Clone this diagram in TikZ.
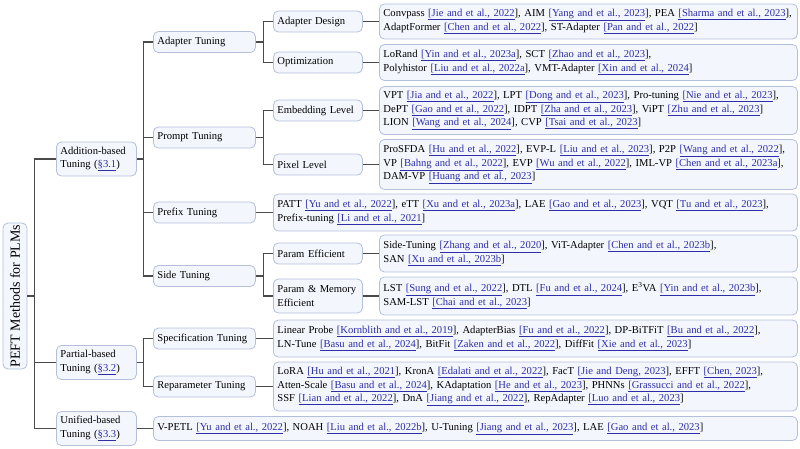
\documentclass[tikz,border=0pt]{standalone}
\usepackage{fontspec}
\setmainfont{Liberation Serif}
\usepackage{xcolor}
\definecolor{boxline}{HTML}{B4C0DA}
\definecolor{boxfill}{HTML}{F3F6FC}
\definecolor{linkc}{HTML}{2E2EA8}
\definecolor{edgec}{HTML}{4A4A4A}
% citation and section links, set as underlined blue text
\newcommand{\ct}[1]{\textcolor{linkc}{\underline{[#1}}]}
\newcommand{\sref}[1]{\textcolor{linkc}{\underline{§#1}}}

\begin{document}
\begin{tikzpicture}[x=1pt,y=-1pt,
  box/.style={draw=boxline, fill=boxfill, line width=0.8pt, rounded corners=5pt,
    anchor=west, align=left, inner xsep=4pt, inner ysep=0pt,
    font=\fontsize{10.6}{13.5}\selectfont},
  edge/.style={draw=edgec, line width=1.3pt},
]
\useasboundingbox (0,0) rectangle (800,448);

% root
\node[box, anchor=center, minimum width=24pt, minimum height=146pt, inner xsep=0pt] (root) at (15,296)
  {\rotatebox{90}{\fontsize{14}{16}\selectfont PEFT Methods for PLMs}};

% first level
\node[box, text width=72pt, minimum height=34pt] (add) at (56,159) {Addition-based\\Tuning (\sref{3.1})};
\node[box, text width=72pt, minimum height=34pt] (part) at (56,362.5) {Partial-based\\Tuning (\sref{3.2})};
\node[box, text width=72pt, minimum height=34pt] (uni) at (56,428.5) {Unified-based\\Tuning (\sref{3.3})};

% second level
\node[box, text width=94pt, minimum height=21pt] (adapt) at (153,42) {Adapter Tuning};
\node[box, text width=94pt, minimum height=21pt] (prompt) at (153,137.5) {Prompt Tuning};
\node[box, text width=94pt, minimum height=21pt] (prefix) at (153,212.5) {Prefix Tuning};
\node[box, text width=94pt, minimum height=21pt] (side) at (153,276) {Side Tuning};
\node[box, text width=94pt, minimum height=21pt] (spec) at (153,338.5) {Specification Tuning};
\node[box, text width=94pt, minimum height=21pt] (repar) at (153,386.5) {Reparameter Tuning};

% third level
\node[box, text width=81pt, minimum height=21pt] (adesign) at (273,21.5) {Adapter Design};
\node[box, text width=81pt, minimum height=21pt] (optim) at (273,62.5) {Optimization};
\node[box, text width=81pt, minimum height=21pt] (embed) at (273,110.5) {Embedding Level};
\node[box, text width=81pt, minimum height=21pt] (pixel) at (273,164.5) {Pixel Level};
\node[box, text width=81pt, minimum height=21pt] (peff) at (273,253.5) {Param Efficient};
\node[box, text width=81pt, minimum height=34pt] (pmem) at (273,296) {Param \& Memory\\Efficient};

% method lists
\node[box, text width=410pt, minimum height=35pt] (lad) at (379,21.5)
  {Convpass \ct{Jie and et al., 2022}, AIM \ct{Yang and et al., 2023}, PEA \ct{Sharma and et al., 2023},\\
   AdaptFormer \ct{Chen and et al., 2022}, ST-Adapter \ct{Pan and et al., 2022}};
\node[box, text width=410pt, minimum height=36pt] (lop) at (379,62.5)
  {LoRand \ct{Yin and et al., 2023a}, SCT \ct{Zhao and et al., 2023},\\
   Polyhistor \ct{Liu and et al., 2022a}, VMT-Adapter \ct{Xin and et al., 2024}};
\node[box, text width=410pt, minimum height=48pt] (lem) at (379,110.5)
  {VPT \ct{Jia and et al., 2022}, LPT \ct{Dong and et al., 2023}, Pro-tuning \ct{Nie and et al., 2023},\\
   DePT \ct{Gao and et al., 2022}, IDPT \ct{Zha and et al., 2023}, ViPT \ct{Zhu and et al., 2023}\\
   LION \ct{Wang and et al., 2024}, CVP \ct{Tsai and et al., 2023}};
\node[box, text width=410pt, minimum height=50pt] (lpx) at (379,164.5)
  {ProSFDA \ct{Hu and et al., 2022}, EVP-L \ct{Liu and et al., 2023}, P2P \ct{Wang and et al., 2022},\\
   VP \ct{Bahng and et al., 2022}, EVP \ct{Wu and et al., 2022}, IML-VP \ct{Chen and et al., 2023a},\\
   DAM-VP \ct{Huang and et al., 2023}};
\node[box, text width=516pt, minimum height=37pt] (lpf) at (273,212.5)
  {PATT \ct{Yu and et al., 2022}, eTT \ct{Xu and et al., 2023a}, LAE \ct{Gao and et al., 2023}, VQT \ct{Tu and et al., 2023},\\
   Prefix-tuning \ct{Li and et al., 2021}};
\node[box, text width=410pt, minimum height=37pt] (lpe) at (379,253.5)
  {Side-Tuning \ct{Zhang and et al., 2020}, ViT-Adapter \ct{Chen and et al., 2023b},\\
   SAN \ct{Xu and et al., 2023b}};
\node[box, text width=410pt, minimum height=38pt] (lpm) at (379,296)
  {LST \ct{Sung and et al., 2022}, DTL \ct{Fu and et al., 2024}, E\textsuperscript{3}VA \ct{Yin and et al., 2023b},\\
   SAM-LST \ct{Chai and et al., 2023}};
\node[box, text width=516pt, minimum height=37pt] (lsp) at (273,338.5)
  {Linear Probe \ct{Kornblith and et al., 2019}, AdapterBias \ct{Fu and et al., 2022}, DP-BiTFiT \ct{Bu and et al., 2022},\\
   LN-Tune \ct{Basu and et al., 2024}, BitFit \ct{Zaken and et al., 2022}, DiffFit \ct{Xie and et al., 2023}};
\node[box, text width=516pt, minimum height=49pt] (lrp) at (273,386.5)
  {LoRA \ct{Hu and et al., 2021}, KronA \ct{Edalati and et al., 2022}, FacT \ct{Jie and Deng, 2023}, EFFT \ct{Chen, 2023},\\
   Atten-Scale \ct{Basu and et al., 2024}, KAdaptation \ct{He and et al., 2023}, PHNNs \ct{Grassucci and et al., 2022},\\
   SSF \ct{Lian and et al., 2022}, DnA \ct{Jiang and et al., 2022}, RepAdapter \ct{Luo and et al., 2023}};
\node[box, text width=636pt, minimum height=24pt] (lun) at (153,428.5)
  {V-PETL \ct{Yu and et al., 2022}, NOAH \ct{Liu and et al., 2022b}, U-Tuning \ct{Jiang and et al., 2023}, LAE \ct{Gao and et al., 2023}};

% connectors
\foreach \c in {add,part,uni}
  \draw[edge] (root.east) -- ++(7,0) |- (\c.west);
\foreach \c in {adapt,prompt,prefix,side}
  \draw[edge] (add.east) -- ++(7,0) |- (\c.west);
\foreach \c in {spec,repar}
  \draw[edge] (part.east) -- ++(7,0) |- (\c.west);
\foreach \c in {adesign,optim}
  \draw[edge] (adapt.east) -- ++(8,0) |- (\c.west);
\foreach \c in {embed,pixel}
  \draw[edge] (prompt.east) -- ++(8,0) |- (\c.west);
\foreach \c in {peff,pmem}
  \draw[edge] (side.east) -- ++(8,0) |- (\c.west);
\draw[edge] (prefix.east) -- (lpf.west);
\draw[edge] (spec.east) -- (lsp.west);
\draw[edge] (repar.east) -- (lrp.west);
\draw[edge] (uni.east) -- (lun.west);
\draw[edge] (adesign.east) -- (lad.west);
\draw[edge] (optim.east) -- (lop.west);
\draw[edge] (embed.east) -- (lem.west);
\draw[edge] (pixel.east) -- (lpx.west);
\draw[edge] (peff.east) -- (lpe.west);
\draw[edge] (pmem.east) -- (lpm.west);
\end{tikzpicture}
\end{document}
